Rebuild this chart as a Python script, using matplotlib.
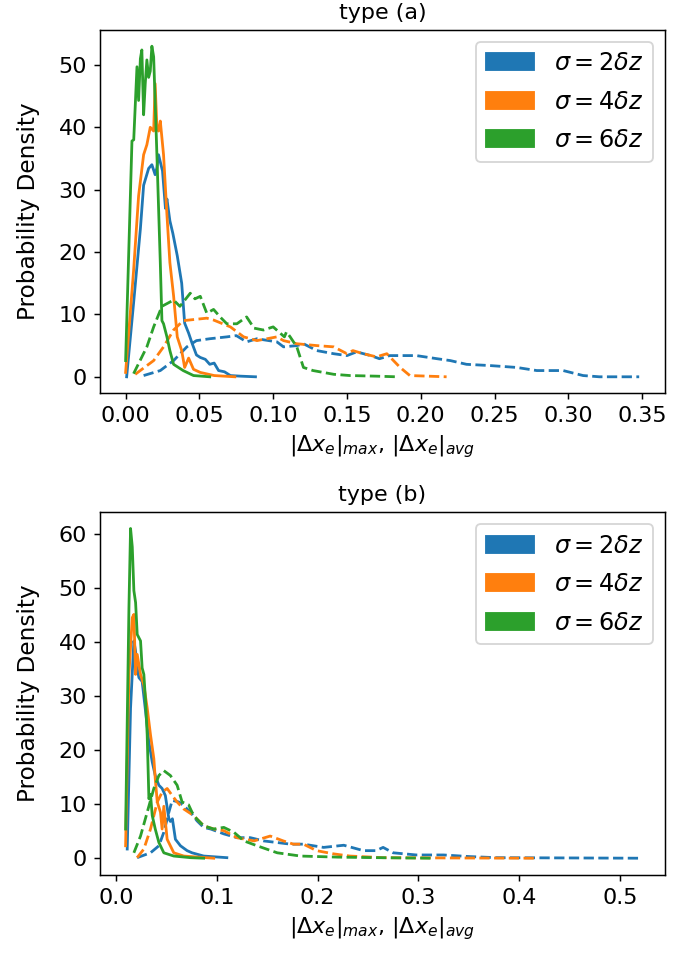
import matplotlib
matplotlib.use('Agg')
import matplotlib.pyplot as plt
import matplotlib.patches as mpatches

labels = [r'$\sigma = 2\delta z$', r'$\sigma = 4\delta z$', r'$\sigma = 6\delta z$']
colors = ['tab:blue', 'tab:orange', 'tab:green']

# type (a), solid = avg, dashed = max
a_avg_x = [
    [0.0007, 0.0054, 0.010, 0.0122, 0.0156, 0.0178, 0.020, 0.0212, 0.0223, 0.025, 0.027, 0.028, 0.030, 0.032, 0.035,
     0.038, 0.040, 0.0427, 0.045, 0.048, 0.0506, 0.054, 0.057, 0.060, 0.063, 0.067, 0.071, 0.078, 0.088],
    [0.0, 0.0054, 0.0088, 0.0122, 0.0144, 0.0167, 0.019, 0.020, 0.0212, 0.0223, 0.0235, 0.0257, 0.028, 0.030, 0.0325,
     0.035, 0.038, 0.040, 0.0427, 0.046, 0.0506, 0.060, 0.074],
    [0.0, 0.0043, 0.0055, 0.0077, 0.0088, 0.010, 0.011, 0.0122, 0.0133, 0.0144, 0.0156, 0.0167, 0.0178, 0.019, 0.0212,
     0.0235, 0.0246, 0.0257, 0.028, 0.030, 0.0325, 0.039, 0.046, 0.057],
]
a_avg_y = [
    [0, 11.8, 23.7, 30.7, 33.4, 34, 32.4, 33.5, 35.6, 33, 27, 28.5, 25, 23, 19.4,
     15, 8.6, 7, 5.4, 3.5, 3.1, 2.8, 2, 2.2, 1, 0.8, 0.2, 0.1, 0],
    [0.7, 17, 29, 35.6, 37.2, 40, 39.4, 47, 40, 39.4, 41, 35.6, 26, 18.3, 13,
     6.4, 4.2, 1.5, 3.0, 1.2, 0.7, 0.2, 0],
    [2.6, 37.8, 38, 49.7, 44.3, 51, 52.4, 42, 47, 50.8, 48, 49, 53, 51.3, 35.6,
     18.3, 9, 8.5, 6.4, 4.2, 2, 1, 0.2, 0],
]
a_max_x = [
    [0.0122, 0.0235, 0.0325, 0.0415, 0.048, 0.057, 0.0686, 0.075, 0.082, 0.089, 0.1025, 0.107, 0.116, 0.1205, 0.1296,
     0.141, 0.150, 0.1565, 0.166, 0.172, 0.179, 0.197, 0.211, 0.220, 0.231, 0.247, 0.265, 0.2786, 0.2965, 0.310,
     0.321, 0.348],
    [0.0065, 0.019, 0.0257, 0.0325, 0.039, 0.047, 0.055, 0.0596, 0.071, 0.080, 0.089, 0.1025, 0.107, 0.116, 0.1296,
     0.141, 0.150, 0.154, 0.161, 0.170, 0.177, 0.186, 0.1926, 0.2175],
    [0.0054, 0.0144, 0.019, 0.0246, 0.0325, 0.0368, 0.0438, 0.047, 0.0506, 0.055, 0.0596, 0.064, 0.0686, 0.0754,
     0.082, 0.087, 0.0934, 0.100, 0.1076, 0.109, 0.1115, 0.116, 0.1205, 0.127, 0.141, 0.152, 0.17, 0.1837],
]
a_max_y = [
    [0.2, 1, 2.6, 4.8, 5.8, 6.1, 6.4, 6.6, 5.6, 6.1, 5.6, 4.8, 5, 5.3, 4.2,
     3.7, 3.4, 4, 3.4, 2.9, 3.4, 3.4, 2.9, 2.6, 2, 1.8, 1.5, 1, 1, 0.2,
     0, 0],
    [0.4, 2.6, 4.8, 7.5, 9, 9.2, 9.4, 9.1, 8, 6.4, 5.8, 6.4, 5.8, 5.3, 5,
     4.8, 3.7, 4.2, 3.7, 3.2, 3.7, 1.5, 0.2, 0],
    [0.5, 4.8, 8, 11.3, 12.3, 11.3, 13.4, 12.5, 12.9, 10.2, 10.8, 9.6, 8.5, 8.5,
     9.6, 7.8, 7.5, 8, 6.4, 7.2, 6.4, 4.8, 1.5, 1, 0.4, 0.2, 0.1, 0],
]

# type (b)
b_avg_x = [
    [0.0112, 0.0145, 0.0178, 0.0195, 0.021, 0.0228, 0.026, 0.029, 0.0327, 0.036, 0.039, 0.0426, 0.0458, 0.049,
     0.0525, 0.054, 0.056, 0.059, 0.064, 0.0706, 0.0755, 0.087, 0.110],
    [0.0096, 0.0129, 0.0162, 0.0178, 0.0195, 0.0211, 0.0244, 0.0277, 0.031, 0.0343, 0.0376, 0.039, 0.041, 0.0442,
     0.0458, 0.0475, 0.0508, 0.0574, 0.0673, 0.097],
    [0.0096, 0.0129, 0.0145, 0.0162, 0.0178, 0.0195, 0.0211, 0.0244, 0.026, 0.0277, 0.0294, 0.031, 0.0327, 0.0343,
     0.036, 0.039, 0.0426, 0.0475, 0.0574, 0.074, 0.087],
]
b_avg_y = [
    [1.7, 27.8, 40.2, 38.3, 35.2, 33.4, 32.7, 27.8, 21.5, 17.8, 15.3, 13.5, 12.9, 11.6,
     7.3, 6.8, 7.3, 3.5, 2.3, 1.4, 1, 0.4, 0.1],
    [2.3, 34, 44.5, 45.1, 34, 37.7, 34, 32, 27.8, 22.8, 18.4, 14.7, 10.4, 8.5,
     5.4, 9.6, 3.5, 1, 0.4, 0],
    [5.4, 46.4, 61, 57.6, 49.5, 47.3, 41.4, 40.2, 35.2, 34, 29, 22.8, 11, 11.8,
     7.9, 5.4, 2.9, 1, 0.4, 0.1, 0],
]
b_max_x = [
    [0.021, 0.0343, 0.0426, 0.0475, 0.0525, 0.0558, 0.0624, 0.0673, 0.074, 0.0805, 0.087, 0.094, 0.107, 0.120,
     0.1333, 0.1465, 0.16, 0.173, 0.186, 0.206, 0.226, 0.2455, 0.258, 0.265, 0.275, 0.298, 0.325, 0.351, 0.3775,
     0.45, 0.519],
    [0.021, 0.0277, 0.0343, 0.041, 0.0458, 0.0508, 0.0558, 0.0607, 0.0673, 0.077, 0.087, 0.097, 0.107, 0.120,
     0.137, 0.153, 0.166, 0.176, 0.186, 0.199, 0.216, 0.232, 0.265, 0.33, 0.417],
    [0.0178, 0.0244, 0.031, 0.0376, 0.0426, 0.0475, 0.054, 0.0607, 0.0656, 0.072, 0.0755, 0.080, 0.087, 0.097,
     0.107, 0.117, 0.127, 0.14, 0.16, 0.183, 0.22, 0.26, 0.312],
]
b_max_y = [
    [0.1, 1, 2.3, 4.8, 8.5, 10.7, 10.4, 9.7, 8.5, 6.9, 5.7, 5.4, 4.5, 3.8,
     3.8, 3.2, 2.9, 2.6, 2.6, 2, 2.4, 1.4, 1.4, 2, 1, 0.6, 0.6, 0.3, 0.1,
     0.05, 0],
    [0.1, 1.7, 5.4, 10.4, 12.2, 12.9, 11.6, 10.4, 9.1, 7.9, 6, 5.4, 5.1, 3.8,
     3.2, 4.1, 3.2, 2.6, 2.6, 1.4, 0.8, 0.4, 0.1, 0.05, 0],
    [1, 4.1, 8.5, 12.9, 15.3, 16.2, 15.3, 13.5, 10.4, 9.9, 8.5, 7.3, 6, 5.4,
     5.7, 4.8, 3.2, 2.3, 1, 0.4, 0.2, 0.1, 0],
]

plt.rcParams['font.size'] = 12

dpi = 133.33
fig = plt.figure(figsize=(694 / dpi, 957 / dpi), dpi=dpi)
ax1 = fig.add_axes([0.144, 0.589, 0.814, 0.380])
ax2 = fig.add_axes([0.144, 0.086, 0.814, 0.379])

panels = [(ax1, 'type (a)', a_avg_x, a_avg_y, a_max_x, a_max_y),
          (ax2, 'type (b)', b_avg_x, b_avg_y, b_max_x, b_max_y)]

for ax, title, avg_x, avg_y, max_x, max_y in panels:
    for i in range(3):
        ax.plot(avg_x[i], avg_y[i], color=colors[i])
        ax.plot(max_x[i], max_y[i], color=colors[i], ls='--')
    ax.set_title(title, fontsize=12)
    ax.set_xlabel(r'$|\Delta x_e|_{max}$, $|\Delta x_e|_{avg}$')
    ax.set_ylabel('Probability Density', fontsize=12.5, labelpad=10)
    handles = [mpatches.Patch(color=colors[i], label=labels[i]) for i in range(3)]
    ax.legend(handles=handles, loc='upper right', fontsize=13, labelspacing=0.6)

ax1.set_xticks([0, 0.05, 0.1, 0.15, 0.2, 0.25, 0.3, 0.35])
ax2.set_xticks([0, 0.1, 0.2, 0.3, 0.4, 0.5])

fig.savefig('out.png', dpi=dpi)
